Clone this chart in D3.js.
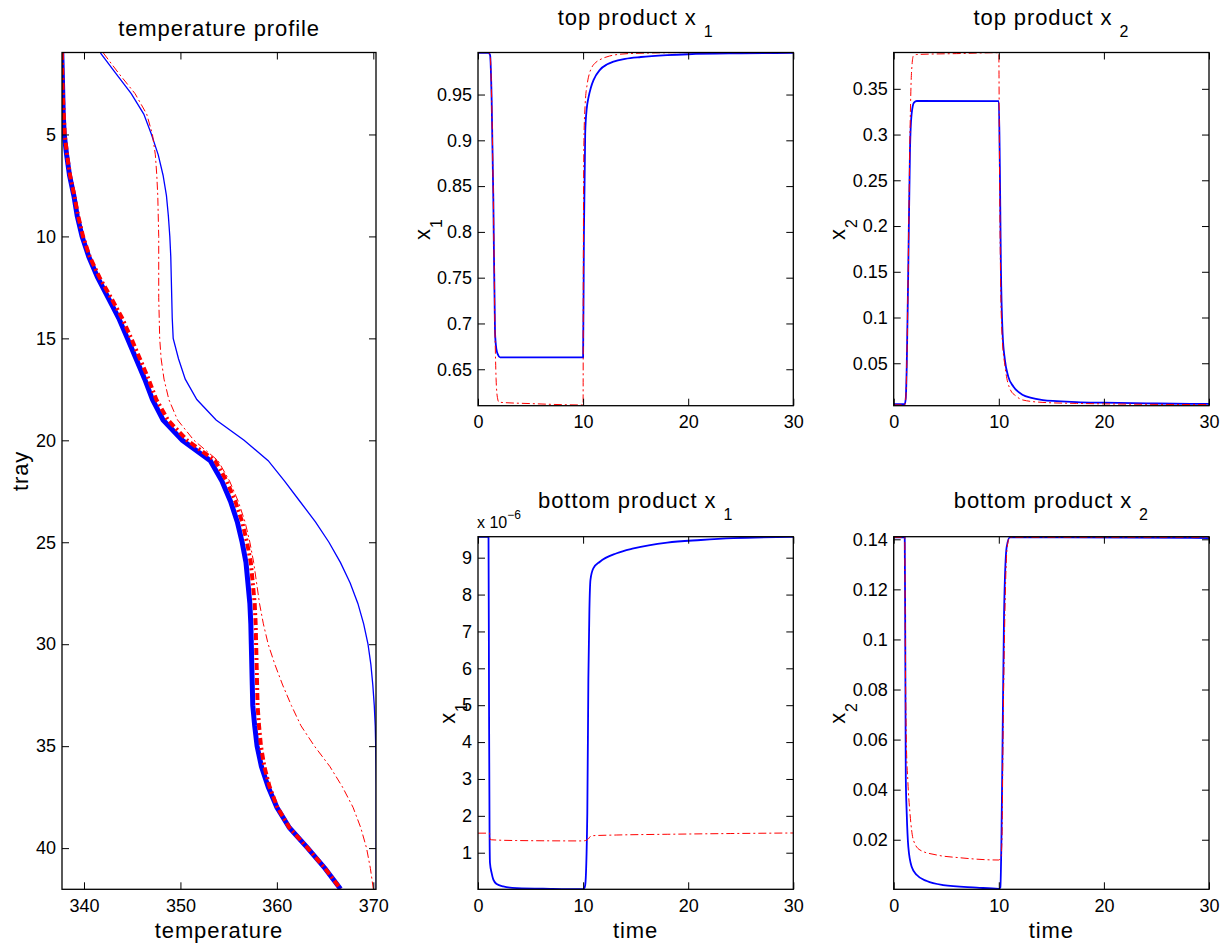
<!DOCTYPE html>
<html>
<head>
<meta charset="utf-8">
<script src="https://cdn.jsdelivr.net/npm/d3@7/dist/d3.min.js"></script>
<style>
  html, body { margin: 0; padding: 0; background: #fff; }
  svg { display: block; }
  text { font-family: "Liberation Sans", Arial, Helvetica, sans-serif; fill: #000; }
</style>
</head>
<body>
<svg id="chart" width="1227" height="946"></svg>
<script>
// ---------------- DATA ----------------
// Temperature profile (tray 1..42)
const trays = d3.range(1, 43);
const tempThickBlue = [337.7,337.75,337.8,337.85,337.95,338.2,338.5,338.95,339.3,339.8,340.5,341.4,342.5,343.6,344.5,345.4,346.3,347.1,348.2,350.2,353.1,354.3,355.2,355.9,356.4,356.8,357.0,357.2,357.3,357.35,357.4,357.45,357.5,357.7,357.95,358.4,359.1,360.0,361.3,363.2,365.0,366.6];
const tempThickRed  = [337.7,337.75,337.8,337.9,338.0,338.25,338.55,339.0,339.4,339.9,340.6,341.6,342.8,343.95,344.9,345.8,346.7,347.5,348.7,350.7,353.6,354.8,355.7,356.4,356.9,357.3,357.5,357.7,357.8,357.85,357.9,357.95,358.0,358.15,358.35,358.7,359.25,360.05,361.3,363.2,365.0,366.6];
const tempThinRed   = [342.0,343.6,345.3,346.5,347.1,347.4,347.55,347.65,347.7,347.75,347.75,347.75,347.75,347.8,347.85,348.0,348.3,348.8,349.7,351.4,353.9,355.1,356.0,356.7,357.2,357.6,357.9,358.2,358.6,359.1,359.8,360.6,361.5,362.5,363.9,365.5,366.8,367.9,368.7,369.3,369.7,370.0];
const tempThinBlue  = [341.7,343.3,344.9,346.2,347.0,347.7,348.2,348.55,348.75,348.9,349.0,349.05,349.1,349.15,349.25,349.8,350.5,351.7,353.7,356.6,359.1,360.8,362.4,364.0,365.4,366.6,367.6,368.4,369.0,369.45,369.75,369.95,370.1,370.2,370.25,370.28,370.3,370.3,370.3,370.3,370.3,370.3];

// top product x1: [time, value]
const topX1Blue = [[0,0.9955],[1.0,0.9955],[1.15,0.993],[1.3,0.944],[1.46,0.835],[1.62,0.69],[1.75,0.672],[1.9,0.666],[2.1,0.663],[10.0,0.663],[10.08,0.799],[10.2,0.908],[10.35,0.935],[10.5,0.946],[10.75,0.958],[11.0,0.966],[11.6,0.977],[12.3,0.983],[12.9,0.986],[14,0.989],[15.5,0.991],[18,0.993],[20,0.994],[25,0.995],[30,0.9955]];
const topX1Red  = [[0,0.9958],[1.0,0.9958],[1.15,0.993],[1.3,0.944],[1.46,0.835],[1.62,0.69],[1.72,0.64],[1.85,0.619],[2.0,0.614],[5,0.6125],[10.0,0.611],[10.02,0.75],[10.08,0.90],[10.2,0.94],[10.4,0.962],[10.6,0.973],[10.8,0.979],[11.2,0.985],[11.6,0.988],[12.5,0.992],[13.5,0.994],[15,0.995],[20,0.9958],[30,0.9958]];
// top product x2
const topX2Blue = [[0,0.0052],[1.05,0.0052],[1.15,0.012],[1.24,0.046],[1.39,0.156],[1.55,0.283],[1.71,0.323],[1.93,0.335],[2.2,0.3367],[10.0,0.3365],[10.1,0.265],[10.2,0.156],[10.36,0.083],[10.58,0.0536],[10.9,0.0354],[11.4,0.0244],[12.3,0.0153],[13,0.0125],[14.2,0.0098],[15.5,0.0087],[17.4,0.0076],[20,0.0069],[25,0.006],[30,0.0055]];
const topX2Red  = [[0,0.0045],[1.05,0.0045],[1.15,0.012],[1.24,0.046],[1.39,0.16],[1.55,0.30],[1.65,0.355],[1.75,0.377],[1.87,0.386],[2.2,0.3875],[6,0.3885],[10.0,0.3895],[10.05,0.30],[10.15,0.16],[10.3,0.083],[10.6,0.046],[11.1,0.021],[11.6,0.0145],[12.3,0.0098],[14.2,0.0072],[17.4,0.0061],[20,0.0056],[30,0.0048]];
// bottom product x1 (values in units of 1e-6)
const botX1Blue = [[0,9.565],[1.0,9.565],[1.05,5.0],[1.1,1.5],[1.14,0.72],[1.3,0.447],[1.46,0.27],[1.78,0.15],[2.4,0.087],[3.7,0.04],[6.9,0.02],[9.96,0.01],[10.1,0.03],[10.2,0.12],[10.4,2.07],[10.5,5.69],[10.6,7.6],[10.7,8.4],[10.97,8.71],[11.6,8.89],[13.2,9.12],[14.8,9.25],[18,9.41],[21.2,9.48],[24.3,9.53],[30,9.565]];
const botX1Red  = [[0,1.53],[1.1,1.53],[1.15,1.36],[1.3,1.35],[3.7,1.33],[10.0,1.32],[10.4,1.35],[10.8,1.46],[13.2,1.48],[18,1.50],[24,1.52],[30,1.535]];
// bottom product x2
const botX2Blue = [[0,0.1408],[1.05,0.1408],[1.1,0.10],[1.15,0.045],[1.24,0.0305],[1.39,0.0172],[1.71,0.0092],[2.2,0.0059],[3.15,0.0035],[4.7,0.0019],[7.9,0.0009],[10.0,0.0004],[10.15,0.001],[10.25,0.02],[10.36,0.06],[10.5,0.1104],[10.75,0.137],[11.05,0.1408],[30,0.1405]];
const botX2Red  = [[0,0.1408],[1.05,0.1408],[1.1,0.10],[1.2,0.06],[1.35,0.043],[1.55,0.0305],[1.87,0.0199],[2.5,0.0159],[4.1,0.0139],[6.3,0.0128],[10.0,0.0119],[10.2,0.013],[10.3,0.02],[10.4,0.06],[10.58,0.1104],[10.8,0.137],[11.05,0.1408],[30,0.1408]];

// tick values
const tempTicks = [340, 350, 360, 370];
const trayTicks = [5, 10, 15, 20, 25, 30, 35, 40];
const timeTicks = [0, 10, 20, 30];
const topX1Ticks = [0.65, 0.7, 0.75, 0.8, 0.85, 0.9, 0.95];
const topX2Ticks = [0.05, 0.1, 0.15, 0.2, 0.25, 0.3, 0.35];
const botX1Ticks = [1, 2, 3, 4, 5, 6, 7, 8, 9];
const botX2Ticks = [0.02, 0.04, 0.06, 0.08, 0.1, 0.12, 0.14];

// ---------------- DRAW ----------------
const svg = d3.select("#chart");
svg.append("rect").attr("width", 1227).attr("height", 946).attr("fill", "#fff");
const fmt = d3.format("~g");
let clipId = 0;

function panel(box, xDom, yDom, xTicks, yTicks, yReverse) {
  const x = d3.scaleLinear().domain(xDom).range([box.l, box.r]);
  const y = d3.scaleLinear().domain(yDom).range(yReverse ? [box.t, box.b] : [box.b, box.t]);
  const g = svg.append("g");
  const id = "clip" + (clipId++);
  svg.append("clipPath").attr("id", id).append("rect")
    .attr("x", box.l).attr("y", box.t).attr("width", box.r - box.l).attr("height", box.b - box.t);
  const plot = g.append("g").attr("clip-path", `url(#${id})`);

  const styleAxis = sel => {
    sel.select(".domain").remove();
    sel.selectAll(".tick line").attr("stroke", "#000").attr("stroke-width", 1);
    sel.selectAll("text").attr("font-size", 18).attr("font-family", '"Liberation Sans", Arial, sans-serif').attr("fill", "#000");
  };
  g.append("g").attr("transform", `translate(0,${box.b})`)
    .call(d3.axisBottom(x).tickValues(xTicks).tickFormat(fmt).tickSize(-7).tickSizeOuter(0).tickPadding(10)).call(styleAxis);
  g.append("g").attr("transform", `translate(0,${box.t})`)
    .call(d3.axisTop(x).tickValues(xTicks).tickFormat("").tickSize(-7).tickSizeOuter(0)).call(styleAxis);
  g.append("g").attr("transform", `translate(${box.l},0)`)
    .call(d3.axisLeft(y).tickValues(yTicks).tickFormat(fmt).tickSize(-7).tickSizeOuter(0).tickPadding(6)).call(styleAxis);
  g.append("g").attr("transform", `translate(${box.r},0)`)
    .call(d3.axisRight(y).tickValues(yTicks).tickFormat("").tickSize(-7).tickSizeOuter(0)).call(styleAxis);
  g.append("rect").attr("x", box.l).attr("y", box.t).attr("width", box.r - box.l).attr("height", box.b - box.t)
    .attr("fill", "none").attr("stroke", "#000").attr("stroke-width", 1.3);
  return { x, y, plot, g };
}

function title(cx, baseline, main, sub) {
  const t = svg.append("text").attr("x", cx).attr("y", baseline).attr("text-anchor", "middle")
    .attr("font-size", 22).attr("letter-spacing", 0.9);
  t.append("tspan").text(main);
  if (sub) {
    t.append("tspan").text(" ");
    t.append("tspan").attr("font-size", 16).attr("dy", 12).text(sub);
  }
}
function ylabel(xb, cy, main, sub) {
  const t = svg.append("text").attr("transform", `translate(${xb},${cy}) rotate(-90)`)
    .attr("text-anchor", "middle").attr("font-size", 22).attr("letter-spacing", 0.9);
  t.append("tspan").text(main);
  if (sub) t.append("tspan").attr("font-size", 16).attr("dy", 12).text(sub);
}
function xlabel(cx, baseline, txt) {
  svg.append("text").attr("x", cx).attr("y", baseline).attr("text-anchor", "middle")
    .attr("font-size", 22).attr("letter-spacing", 0.9).text(txt);
}

const RED_DD = "8,3,2,3";

// Panel 1: temperature profile
{
  const box = { l: 62, r: 376, t: 52.5, b: 889.3 };
  const p = panel(box, [337.72, 370.28], [0.98, 42.02], tempTicks, trayTicks, true);
  const line = d3.line().x(d => p.x(d[0])).y(d => p.y(d[1]));
  const mk = arr => arr.map((T, i) => [T, trays[i]]);
  p.plot.append("path").attr("d", line(mk(tempThickBlue))).attr("fill", "none").attr("stroke", "#0000ff").attr("stroke-width", 5);
  p.plot.append("path").attr("d", line(mk(tempThickRed))).attr("fill", "none").attr("stroke", "#ff0000").attr("stroke-width", 4).attr("stroke-dasharray", "7,3,2,3");
  p.plot.append("path").attr("d", line(mk(tempThinBlue))).attr("fill", "none").attr("stroke", "#0000ff").attr("stroke-width", 1.3);
  p.plot.append("path").attr("d", line(mk(tempThinRed))).attr("fill", "none").attr("stroke", "#ff0000").attr("stroke-width", 1).attr("stroke-dasharray", RED_DD);
  title((box.l + box.r) / 2, 36, "temperature profile");
  ylabel(28, (box.t + box.b) / 2, "tray");
  xlabel((box.l + box.r) / 2, 938, "temperature");
}

function timePanel(box, yDom, yTicks, blue, red, scale) {
  const p = panel(box, [0, 30], yDom, timeTicks, yTicks, false);
  const line = d3.line().x(d => p.x(d[0])).y(d => p.y(d[1])).curve(d3.curveMonotoneX);
  p.plot.append("path").attr("d", line(blue)).attr("fill", "none").attr("stroke", "#0000ff").attr("stroke-width", 1.8);
  p.plot.append("path").attr("d", line(red)).attr("fill", "none").attr("stroke", "#ff0000").attr("stroke-width", 1).attr("stroke-dasharray", RED_DD);
  return p;
}

// Panel 2: top product x1
{
  const box = { l: 478, r: 793.3, t: 52.5, b: 405.7 };
  timePanel(box, [0.6102, 0.9959], topX1Ticks, topX1Blue, topX1Red);
  title((box.l + box.r) / 2, 25, "top product x", "1");
  ylabel(430, (box.t + box.b) / 2, "x", "1");
}
// Panel 3: top product x2
{
  const box = { l: 893.7, r: 1209, t: 52.5, b: 405.7 };
  timePanel(box, [0.0036, 0.3897], topX2Ticks, topX2Blue, topX2Red);
  title((box.l + box.r) / 2, 25, "top product x", "2");
  ylabel(845, (box.t + box.b) / 2, "x", "2");
}
// Panel 4: bottom product x1
{
  const box = { l: 478, r: 793.3, t: 536.7, b: 889.3 };
  timePanel(box, [0.008, 9.569], botX1Ticks, botX1Blue, botX1Red);
  title((box.l + box.r) / 2, 508, "bottom product x", "1");
  ylabel(455, (box.t + box.b) / 2, "x", "1");
  xlabel((box.l + box.r) / 2, 938, "time");
  const e = svg.append("text").attr("x", 477).attr("y", 528).attr("font-size", 16);
  e.append("tspan").text("x 10");
  e.append("tspan").attr("font-size", 12).attr("dy", -9).text("\u22126");
}
// Panel 5: bottom product x2
{
  const box = { l: 893.7, r: 1209, t: 536.7, b: 889.3 };
  timePanel(box, [0.0002, 0.14104], botX2Ticks, botX2Blue, botX2Red);
  title((box.l + box.r) / 2, 508, "bottom product x", "2");
  ylabel(845, (box.t + box.b) / 2, "x", "2");
  xlabel((box.l + box.r) / 2, 938, "time");
}
</script>
</body>
</html>
